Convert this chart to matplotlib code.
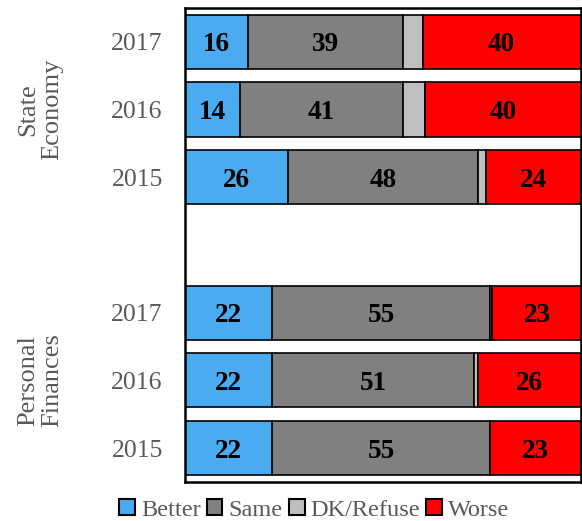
import matplotlib
matplotlib.use('Agg')
import matplotlib.pyplot as plt
from matplotlib.patches import Patch

plt.rcParams['font.family'] = ['Liberation Serif', 'DejaVu Serif']

# rows top to bottom; the empty slot between the two groups is None
years = ['2017', '2016', '2015', '', '2017', '2016', '2015']
groups = ['State\nEconomy', 'Personal\nFinances']
categories = ['Better', 'Same', 'DK/Refuse', 'Worse']
better = [16, 14, 26, None, 22, 22, 22]
same = [39, 41, 48, None, 55, 51, 55]
dk = [5, 5.5, 2, None, 0.5, 1, 0]
worse = [40, 40, 24, None, 23, 26, 23]

colors = ['#4aabf0', '#808080', '#bfbfbf', '#ff0000']
text_gray = '#595959'

fig = plt.figure(figsize=(5.82, 5.21), dpi=100)
ax = fig.add_axes([0.318, 0.075, 0.680, 0.910])

series = [better, same, dk, worse]
for i in range(len(years)):
    if better[i] is None:
        continue
    left = 0
    for k, vals in enumerate(series):
        v = vals[i]
        ax.barh(i, v, left=left, height=0.8, color=colors[k],
                edgecolor='black', linewidth=1.2)
        if k != 2:
            ax.text(left + v / 2, i, f"{v:.0f}", ha='center', va='center_baseline',
                    fontsize=19.5, fontweight='bold', color='black')
        left += v

ax.set_xlim(0, 100)
ax.set_ylim(6.5, -0.5)
ax.set_xticks([])
ax.set_yticks(range(len(years)))
ax.set_yticklabels(years, fontsize=18.5, color=text_gray)
ax.tick_params(axis='y', length=0, pad=16)
for sp in ax.spines.values():
    sp.set_linewidth(1.8)
    sp.set_color('black')

# group labels
ax.text(-0.366, 1.0, groups[0], transform=ax.get_yaxis_transform(),
        rotation=90, ha='center', va='center', fontsize=19,
        color=text_gray, linespacing=1.15)
ax.text(-0.366, 5.0, groups[1], transform=ax.get_yaxis_transform(),
        rotation=90, ha='center', va='center', fontsize=19,
        color=text_gray, linespacing=1.15)

handles = [Patch(facecolor=c, edgecolor='black', linewidth=1.5) for c in colors]
leg = fig.legend(handles, categories, loc='center', bbox_to_anchor=(0.54, 0.021),
                 ncol=4, frameon=False, fontsize=17.5, handlelength=0.65,
                 handleheight=0.65, handletextpad=0.25, columnspacing=0.25,
                 borderaxespad=0)
for t in leg.get_texts():
    t.set_color(text_gray)

fig.savefig('out.png', dpi=100)
